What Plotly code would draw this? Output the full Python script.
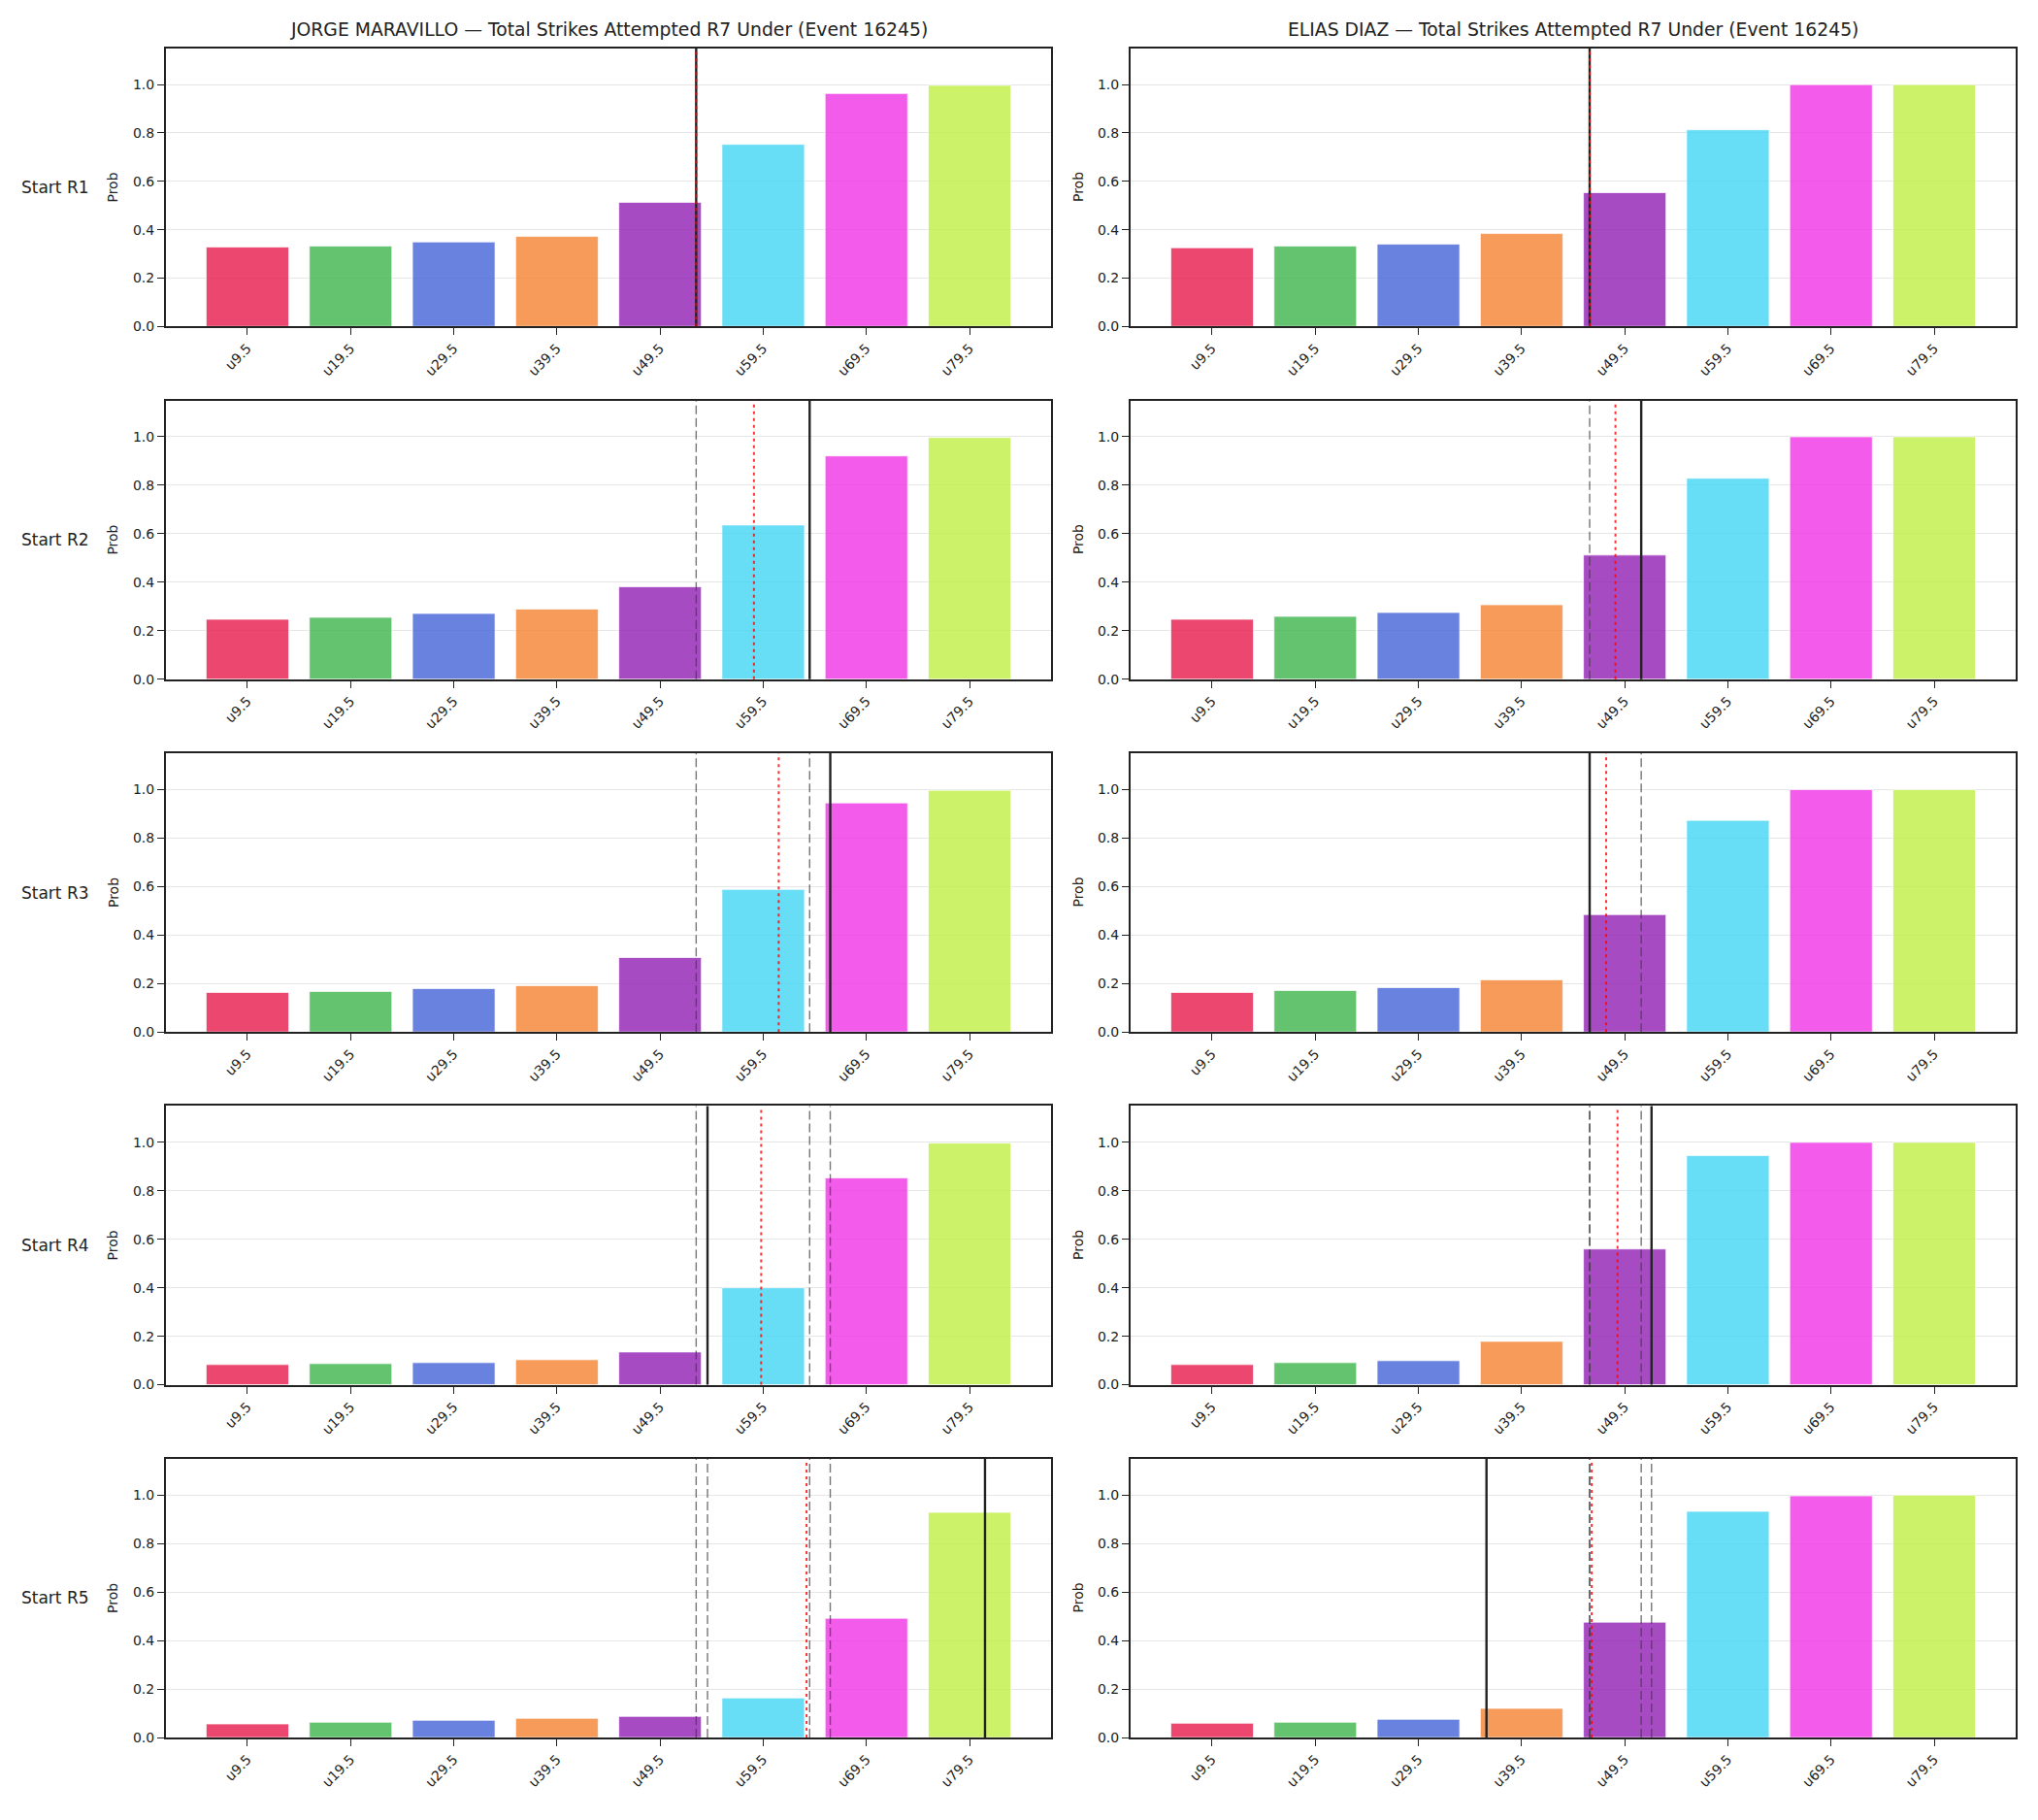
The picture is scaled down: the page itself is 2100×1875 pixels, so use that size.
import plotly.graph_objects as go

thresholds = ["u9.5", "u19.5", "u29.5", "u39.5", "u49.5", "u59.5", "u69.5", "u79.5"]
bar_colors = ["#e6194b", "#3cb44b", "#4363d8", "#f58231", "#911eb4", "#42d4f4", "#f032e6", "#bfef45"]
row_labels = ["Start R1", "Start R2", "Start R3", "Start R4", "Start R5"]
titles = ["JORGE MARAVILLO \u2014 Total Strikes Attempted R7 Under (Event 16245)",
          "ELIAS DIAZ \u2014 Total Strikes Attempted R7 Under (Event 16245)"]

# Probabilities per start (row) for each fighter
maravillo_probs = [
    [0.328, 0.332, 0.349, 0.372, 0.513, 0.753, 0.963, 0.997],
    [0.247, 0.255, 0.271, 0.289, 0.381, 0.636, 0.921, 0.997],
    [0.163, 0.167, 0.179, 0.191, 0.307, 0.588, 0.945, 0.997],
    [0.083, 0.087, 0.091, 0.103, 0.135, 0.400, 0.853, 0.997],
    [0.056, 0.063, 0.071, 0.079, 0.087, 0.163, 0.492, 0.929],
]
diaz_probs = [
    [0.325, 0.332, 0.340, 0.384, 0.553, 0.813, 1.000, 1.000],
    [0.247, 0.259, 0.275, 0.307, 0.512, 0.829, 1.000, 1.000],
    [0.163, 0.171, 0.183, 0.215, 0.484, 0.873, 1.000, 1.000],
    [0.083, 0.091, 0.099, 0.179, 0.560, 0.945, 1.000, 1.000],
    [0.059, 0.063, 0.075, 0.120, 0.476, 0.933, 0.997, 1.000],
]

# Vertical marker positions (in category-axis units)
maravillo_current = [4.35, 5.45, 5.65, 4.46, 7.15]
maravillo_mean = [4.35, 4.91, 5.15, 4.98, 5.42]
maravillo_prev = [[], [4.35], [4.35, 5.45], [4.35, 5.45, 5.65], [4.35, 4.46, 5.45, 5.65]]

diaz_current = [3.66, 4.16, 3.66, 4.26, 2.66]
diaz_mean = [3.66, 3.91, 3.82, 3.93, 3.68]
diaz_prev = [[], [3.66], [3.66, 4.16], [3.66, 3.66, 4.16], [3.66, 3.66, 4.16, 4.26]]

W, H = 2100, 1875
col_px = [(171, 1083), (1165, 2077)]
row_px = [(50, 337.7), (414.3, 702.7), (779.3, 1067.7), (1144.3, 1432.7), (1509.3, 1797.7)]
prob_x_px = [116.5, 1111]

FONT = "DejaVu Sans"
INK = "#222222"


def rgba(hexc, a):
    h = hexc.lstrip("#")
    return "rgba(%d,%d,%d,%s)" % (int(h[0:2], 16), int(h[2:4], 16), int(h[4:6], 16), a)


fig = go.Figure()
layout = dict(
    width=W, height=H,
    margin=dict(l=0, r=0, t=0, b=0),
    paper_bgcolor="white", plot_bgcolor="white",
    showlegend=False,
    font=dict(family=FONT, color=INK, size=14),
)
shapes = []
annotations = []

for r in range(5):
    for c in range(2):
        n = r * 2 + c + 1
        xs = "x" if n == 1 else "x%d" % n
        ys = "y" if n == 1 else "y%d" % n
        probs = maravillo_probs[r] if c == 0 else diaz_probs[r]
        cur = maravillo_current[r] if c == 0 else diaz_current[r]
        mean = maravillo_mean[r] if c == 0 else diaz_mean[r]
        prev = maravillo_prev[r] if c == 0 else diaz_prev[r]

        fig.add_trace(go.Bar(
            x=list(range(len(thresholds))), y=probs, width=0.8,
            marker=dict(color=[rgba(cc, 0.8) for cc in bar_colors],
                        line=dict(color="white", width=0.7)),
            xaxis=xs, yaxis=ys, hoverinfo="skip",
        ))

        x0, x1 = col_px[c]
        y0, y1 = row_px[r]
        layout["xaxis" if n == 1 else "xaxis%d" % n] = dict(
            domain=[x0 / W, x1 / W], anchor=ys, range=[-0.79, 7.79],
            tickmode="array", tickvals=list(range(len(thresholds))), ticktext=thresholds,
            tickangle=-45, ticks="outside", ticklen=7, tickwidth=1.3, tickcolor=INK,
            showline=True, mirror=True, linecolor=INK, linewidth=2,
            showgrid=False, zeroline=False, tickfont=dict(size=14, family=FONT, color=INK),
        )
        layout["yaxis" if n == 1 else "yaxis%d" % n] = dict(
            domain=[1 - y1 / H, 1 - y0 / H], anchor=xs, range=[0, 1.15],
            tickmode="array", tickvals=[0, 0.2, 0.4, 0.6, 0.8, 1.0],
            ticktext=["0.0", "0.2", "0.4", "0.6", "0.8", "1.0"],
            ticks="outside", ticklen=7, tickwidth=1.3, tickcolor=INK,
            showline=True, mirror=True, linecolor=INK, linewidth=2,
            showgrid=True, gridcolor="#e6e6e6", gridwidth=1, zeroline=False,
            tickfont=dict(size=14, family=FONT, color=INK),
        )

        for p in prev:
            shapes.append(dict(type="line", xref=xs, yref=ys + " domain", x0=p, x1=p, y0=0, y1=1,
                               line=dict(color="rgba(60,60,60,0.7)", width=1.4, dash="9px,4px")))
        shapes.append(dict(type="line", xref=xs, yref=ys + " domain", x0=cur, x1=cur, y0=0, y1=1,
                           line=dict(color=INK, width=2.4)))
        shapes.append(dict(type="line", xref=xs, yref=ys + " domain", x0=mean, x1=mean, y0=0, y1=1,
                           line=dict(color="rgba(255,0,0,0.8)", width=2, dash="3px,4px")))

        # "Prob" axis label
        annotations.append(dict(text="Prob", xref="paper", yref="paper",
                                x=prob_x_px[c] / W, y=1 - (y0 + y1) / 2 / H,
                                xanchor="center", yanchor="middle", textangle=-90,
                                showarrow=False, font=dict(size=14, family=FONT, color=INK)))
        if c == 0:
            annotations.append(dict(text=row_labels[r], xref="paper", yref="paper",
                                    x=20 / W, y=1 - (y0 + y1) / 2 / H,
                                    xanchor="left", yanchor="middle", showarrow=False,
                                    font=dict(size=17, family=FONT, color=INK)))
        if r == 0:
            annotations.append(dict(text=titles[c], xref="paper", yref="paper",
                                    x=(x0 + x1) / 2 / W, y=1 - 31 / H,
                                    xanchor="center", yanchor="middle", showarrow=False,
                                    font=dict(size=18.8, family=FONT, color=INK)))

layout["shapes"] = shapes
layout["annotations"] = annotations
fig.update_layout(**layout)
fig.write_html("out.html")
